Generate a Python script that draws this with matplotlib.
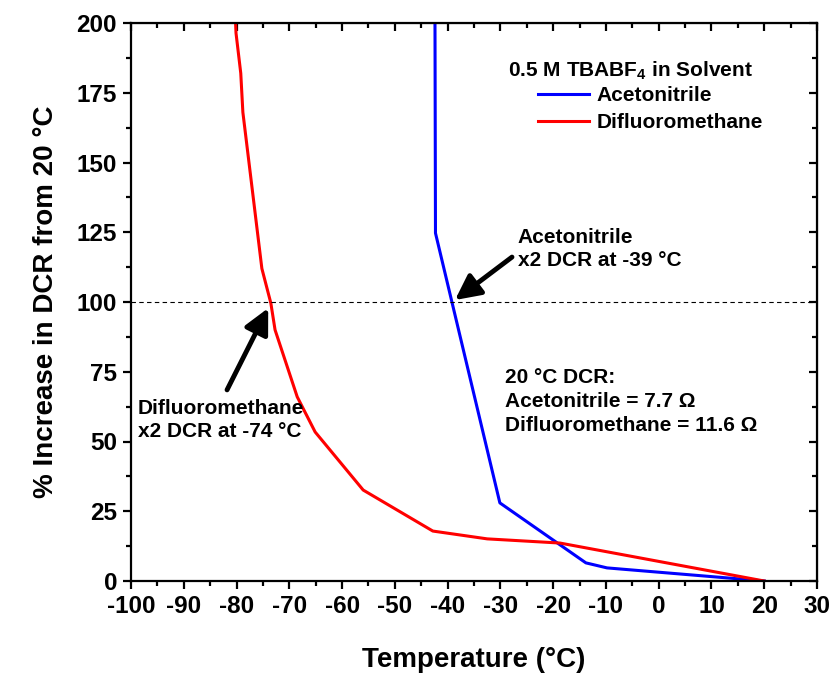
import numpy as np
import matplotlib
matplotlib.use('Agg')
import matplotlib.pyplot as plt
from matplotlib.ticker import MultipleLocator

plt.rcParams['font.family'] = ['Liberation Sans', 'DejaVu Sans']
plt.rcParams['font.weight'] = 'bold'
plt.rcParams['axes.labelweight'] = 'bold'
plt.rcParams['axes.unicode_minus'] = False
plt.rcParams['mathtext.fontset'] = 'custom'
plt.rcParams['mathtext.rm'] = 'Liberation Sans:bold'
plt.rcParams['mathtext.bf'] = 'Liberation Sans:bold'

# Data
acn_temp = [20, -9.8, -13.8, -30.1, -42.3, -42.4]
acn_dcr = [0, 4.7, 6.5, 28, 124.7, 205]

dfm_temp = [20, -18.7, -32.5, -42.8, -56.0, -65.1, -68.5, -72.7, -73.5, -75.2,
            -78.8, -79.2, -80.1, -80.3]
dfm_dcr = [0, 13.6, 15.1, 17.9, 32.6, 53.4, 66, 90, 99.6, 112,
           168, 182, 196.4, 205]

W, H = 830, 673
fig = plt.figure(figsize=(W / 100, H / 100), dpi=100)
ax = fig.add_axes([131 / W, 1 - 581 / H, (817 - 131) / W, (581 - 23) / H])

ax.plot(acn_temp, acn_dcr, color='#0000ff', lw=2.2, label='Acetonitrile')
ax.plot(dfm_temp, dfm_dcr, color='#ff0000', lw=2.2, label='Difluoromethane')
ax.axhline(100, color='black', lw=0.8, ls=(0, (4, 3)))

ax.set_xlim(-100, 30)
ax.set_ylim(0, 200)
ax.xaxis.set_major_locator(MultipleLocator(10))
ax.xaxis.set_minor_locator(MultipleLocator(5))
ax.yaxis.set_major_locator(MultipleLocator(25))
ax.yaxis.set_minor_locator(MultipleLocator(12.5))

for s in ax.spines.values():
    s.set_linewidth(1.6)
ax.tick_params(which='major', length=6, width=1.6, labelsize=17.5, direction='out', pad=4)
ax.tick_params(which='minor', length=3.5, width=1.6, direction='out')

# top and right ticks point inward
top = ax.secondary_xaxis('top')
top.xaxis.set_major_locator(MultipleLocator(10))
top.xaxis.set_minor_locator(MultipleLocator(5))
top.tick_params(which='major', length=6, width=1.6, direction='in', labeltop=False)
top.tick_params(which='minor', length=3.5, width=1.6, direction='in')
right = ax.secondary_yaxis('right')
right.yaxis.set_major_locator(MultipleLocator(25))
right.yaxis.set_minor_locator(MultipleLocator(12.5))
right.tick_params(which='major', length=6, width=1.6, direction='in', labelright=False)
right.tick_params(which='minor', length=3.5, width=1.6, direction='in')

ax.set_xlabel('Temperature (°C)', fontsize=20, labelpad=21)
ax.set_ylabel('% Increase in DCR from 20 °C', fontsize=20, labelpad=13)

# annotations
arrow = dict(arrowstyle='-|>', color='black', lw=3.5, mutation_scale=38,
             shrinkA=0, shrinkB=0)
ax.annotate('', xy=(-38.6, 100.7), xytext=(-27.8, 116.1), arrowprops=arrow)
ax.text(-26.7, 119, 'Acetonitrile\nx2 DCR at -39 °C', fontsize=15,
        ha='left', va='center', linespacing=1.25)

ax.annotate('', xy=(-74.0, 97.8), xytext=(-81.8, 68.5), arrowprops=arrow)
ax.text(-98.7, 57.7, 'Difluoromethane\nx2 DCR at -74 °C', fontsize=15,
        ha='left', va='center', linespacing=1.25)

ax.text(-29.1, 64.3, '20 °C DCR:\nAcetonitrile = 7.7 Ω\nDifluoromethane = 11.6 Ω',
        fontsize=15, ha='left', va='center', linespacing=1.35)

# legend with separate title
fig.text(508 / W, 1 - 71 / H, r'0.5 M TBABF$_{4}$ in Solvent', fontsize=15,
         ha='left', va='center')
ax.legend(loc='upper left', bbox_to_anchor=(538 / W, 1 - 86 / H),
          bbox_transform=fig.transFigure, frameon=False, fontsize=15,
          borderpad=0, borderaxespad=0, handlelength=2.45, handletextpad=0.35,
          labelspacing=0.4)

fig.savefig('out.png', dpi=100)
